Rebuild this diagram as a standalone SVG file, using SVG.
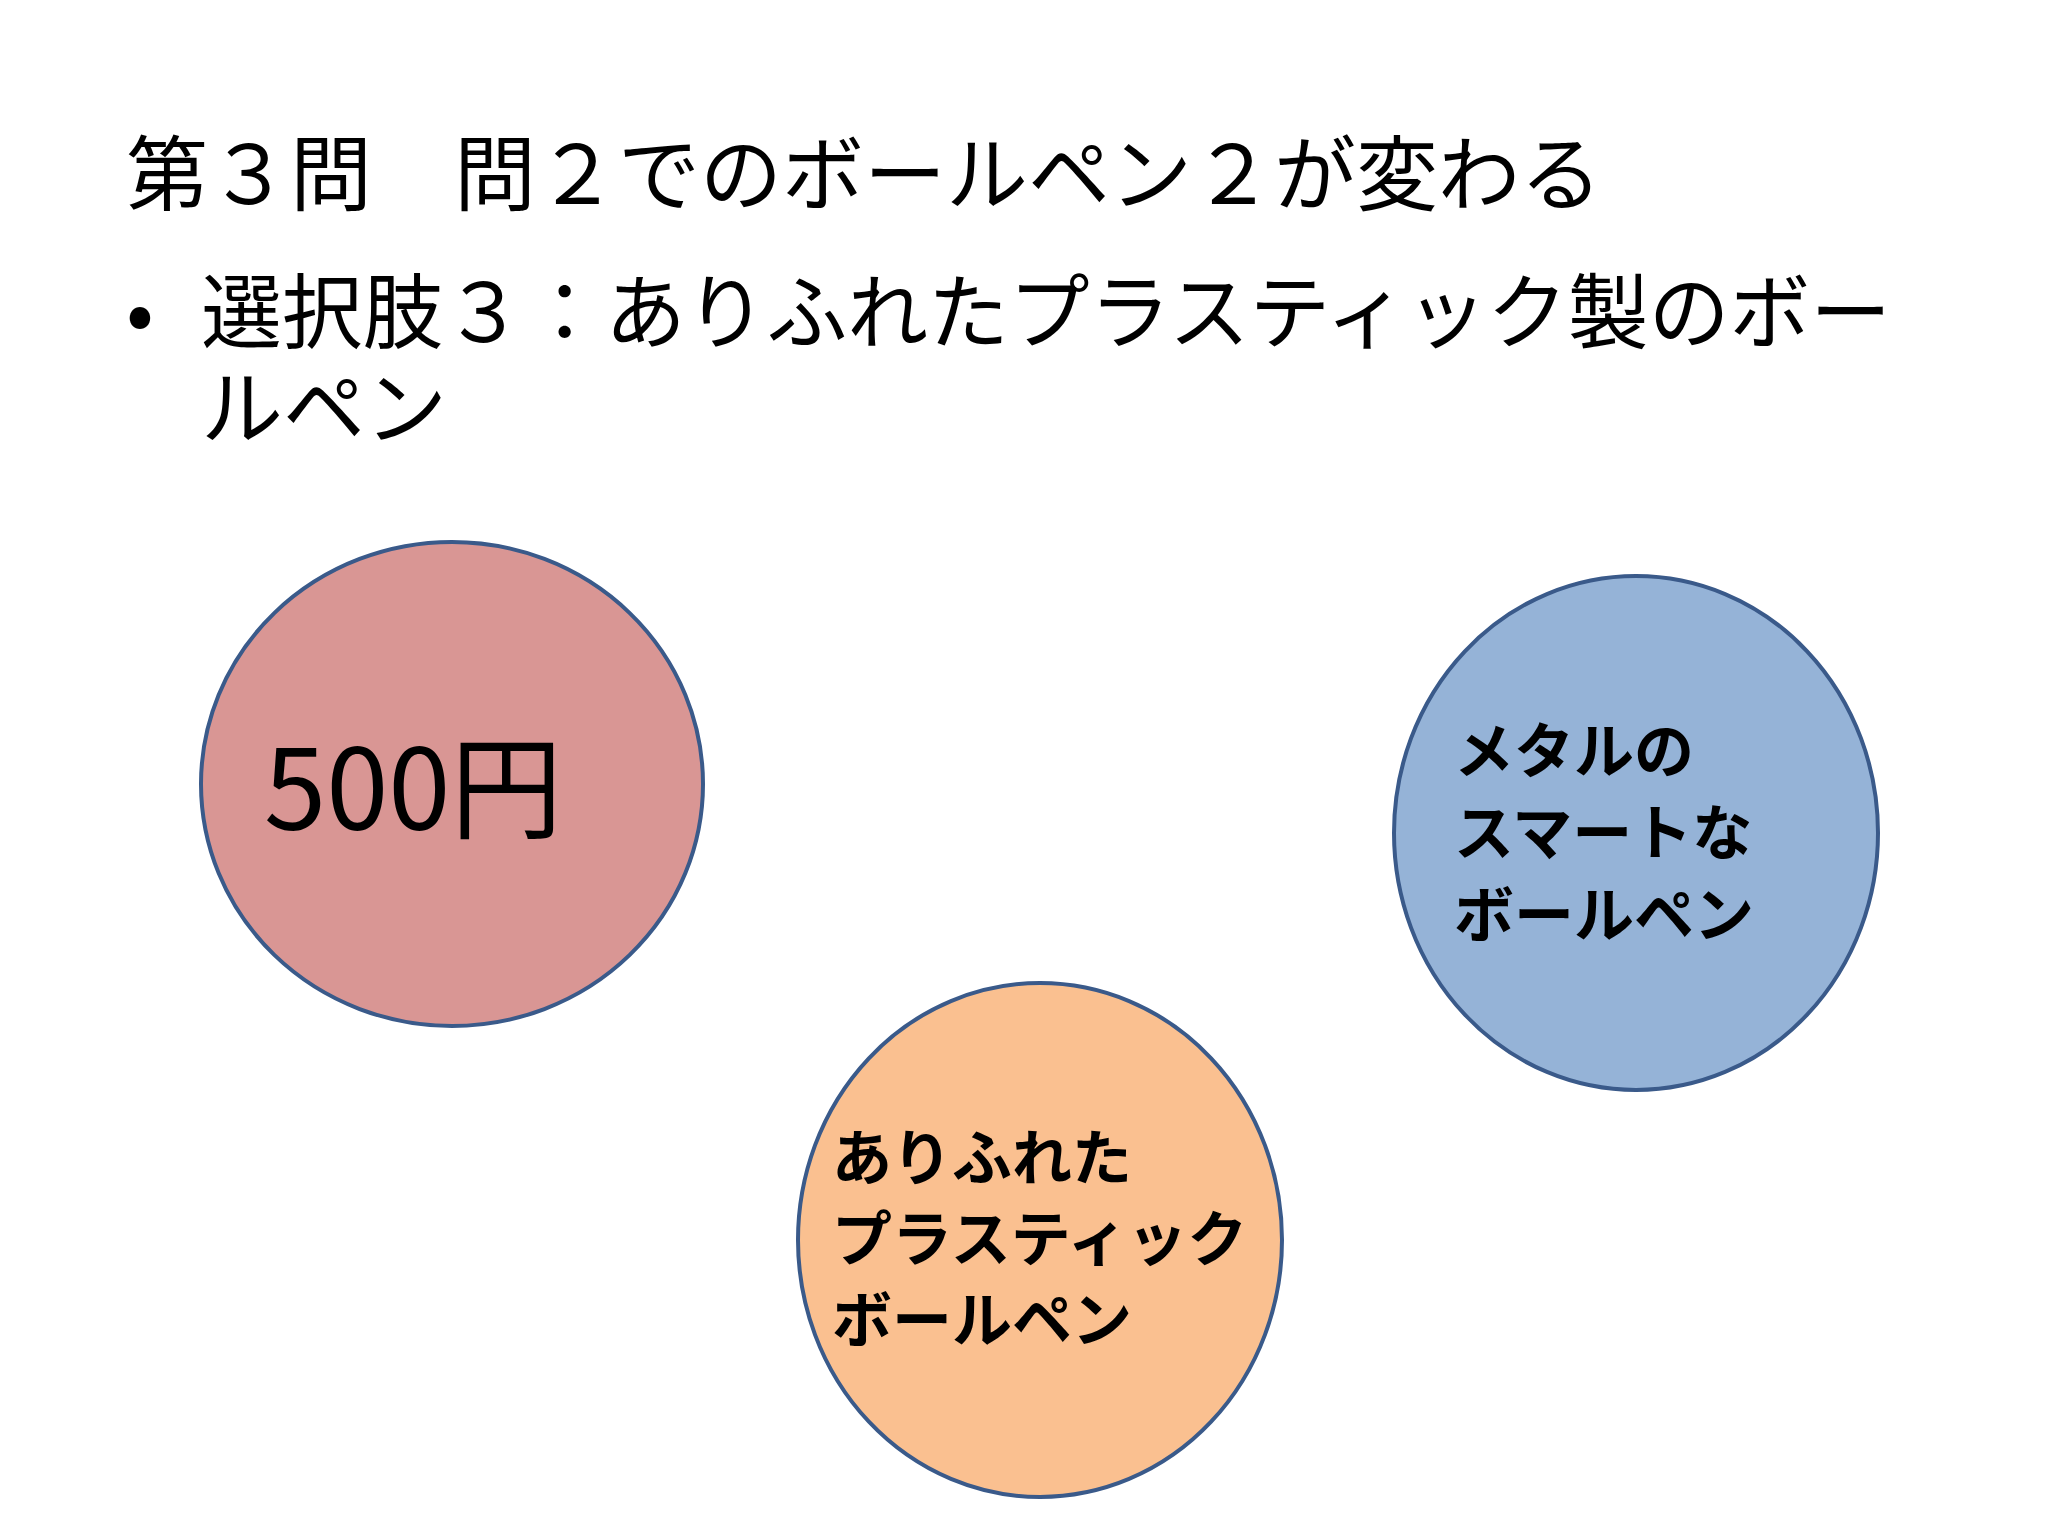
<svg xmlns="http://www.w3.org/2000/svg" width="2048" height="1536" viewBox="0 0 2048 1536">
<style>
.t{font-family:"Noto Sans CJK JP","Noto Sans",sans-serif;fill:#000}
.h{font-size:82px}
.b{font-size:60px;font-weight:bold}
.c{stroke:#3a5a8a;stroke-width:4}
</style>
<rect width="2048" height="1536" fill="#fff"/>
<g id="title"><text class="t h" x="126" y="204">第３問　問２でのボールペン２が変わる</text></g>
<g id="bullet">
<text class="t h" x="126" y="342">•</text>
<text class="t h" x="201" y="342" textLength="1690" lengthAdjust="spacingAndGlyphs">選択肢３：ありふれたプラスティック製のボー</text>
<text class="t h" x="201" y="438">ルペン</text>
</g>
<g id="node-500">
<ellipse class="c" cx="452" cy="784" rx="251" ry="242" fill="#d99694"/>
<text class="t" x="264" y="830" font-size="112">500円</text>
</g>
<g id="node-metal">
<ellipse class="c" cx="1636" cy="833" rx="242" ry="257" fill="#95b3d7"/>
<text class="t b" x="1454" y="773">メタルの</text>
<text class="t b" x="1454" y="855">スマートな</text>
<text class="t b" x="1454" y="937">ボールペン</text>
</g>
<g id="node-plastic">
<ellipse class="c" cx="1040" cy="1240" rx="242" ry="257" fill="#fac090"/>
<text class="t b" x="832" y="1180">ありふれた</text>
<text class="t b" x="832" y="1261">プラスティック</text>
<text class="t b" x="832" y="1342">ボールペン</text>
</g>
<g id="connectors"/>
</svg>
